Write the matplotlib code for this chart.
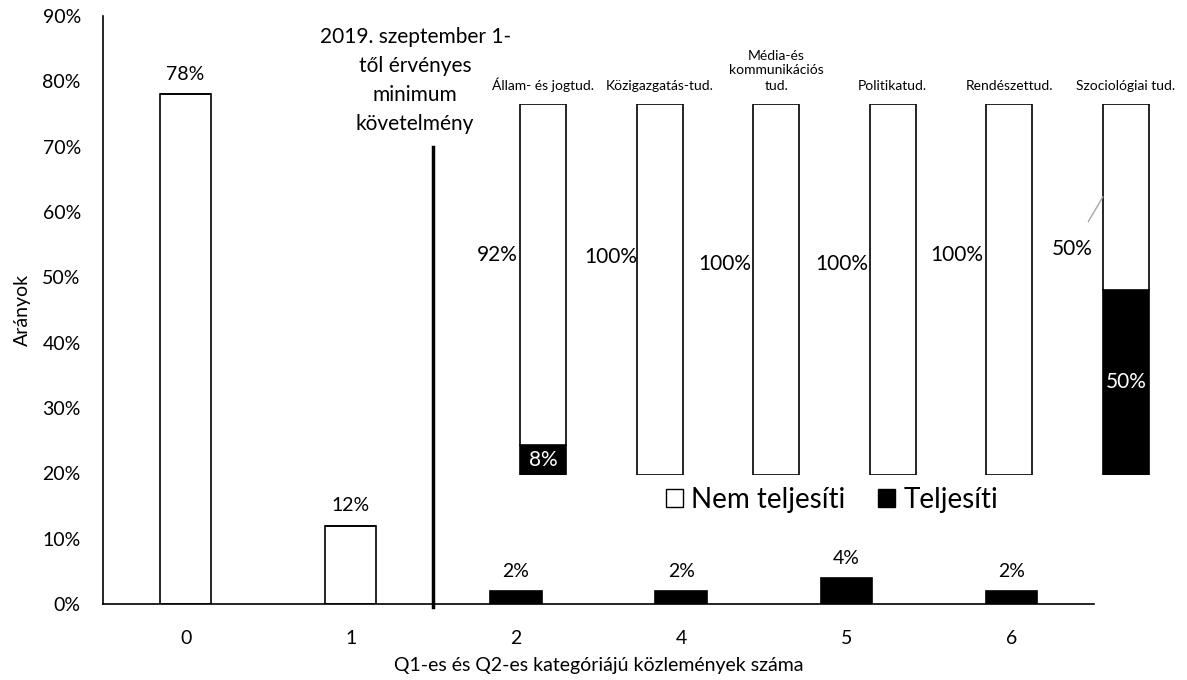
import matplotlib
matplotlib.use("Agg")
import matplotlib.pyplot as plt
from matplotlib.patches import Patch
import numpy as np

plt.rcParams['font.family'] = ['Lato', 'DejaVu Sans']

# ---- main chart data ----
categories = ["0", "1", "2", "4", "5", "6"]
nem_main = [78, 12, 0, 0, 0, 0]
telj_main = [0, 0, 2, 2, 4, 2]
main_labels = ["78%", "12%", "2%", "2%", "4%", "2%"]
y_ticks = [0, 10, 20, 30, 40, 50, 60, 70, 80, 90]
threshold_x = 1.5
threshold_top = 70
annotation_lines = ["2019. szeptember 1-", "től érvényes", "minimum", "követelmény"]

# ---- inset data ----
fields = ["Állam- és jogtud.", "Közigazgatás-tud.", "Média-és\nkommunikációs\ntud.",
          "Politikatud.", "Rendészettud.", "Szociológiai tud."]
nem_inset = [92, 100, 100, 100, 100, 50]
telj_inset = [8, 0, 0, 0, 0, 50]
# label positions (offset from bar centre, height) of the "Nem teljesíti" labels
nem_label_pos = [(-0.39, 59.3), (-0.42, 58.8), (-0.44, 57.0), (-0.44, 57.0), (-0.45, 59.3), (-0.46, 61.0)]

W, H = 1187, 680
fig = plt.figure(figsize=(W / 100, H / 100), dpi=100)

ax = fig.add_axes([103 / W, 1 - 604 / H, (1094 - 103) / W, (604 - 16) / H])
x = np.arange(len(categories))
bw = 0.31
ax.bar(x, nem_main, width=bw, color="white", edgecolor="black", linewidth=1.2, zorder=2)
ax.bar(x, telj_main, bottom=nem_main, width=bw, color="black", edgecolor="black", linewidth=1.2, zorder=2)
for xi, v1, v2, lab in zip(x, nem_main, telj_main, main_labels):
    ax.annotate(lab, (xi, v1 + v2), xytext=(0, 8), textcoords="offset points",
                ha="center", va="bottom", fontsize=14)
ax.set_xlim(-0.5, len(categories) - 0.5)
ax.set_ylim(0, 90)
ax.set_yticks(y_ticks)
ax.set_yticklabels([f"{t}%" for t in y_ticks], fontsize=14)
ax.set_xticks(x)
ax.set_xticklabels(categories, fontsize=14)
ax.tick_params(axis="x", length=0, pad=19)
ax.tick_params(axis="y", length=0, pad=16)
for s in ["top", "right"]:
    ax.spines[s].set_visible(False)
for s in ["left", "bottom"]:
    ax.spines[s].set_linewidth(1.2)
ax.set_ylabel("Arányok", fontsize=14, labelpad=8)
ax.set_xlabel("Q1-es és Q2-es kategóriájú közlemények száma", fontsize=14, labelpad=7)

ax.plot([threshold_x, threshold_x], [-0.4, threshold_top], color="black", linewidth=2.5, zorder=3, clip_on=False)
# annotation: one text per line, stacked downward from the top
ann_top_y = 86.8
ann_step = 4.45
for k, line in enumerate(annotation_lines):
    ax.text(1.39, ann_top_y - k * ann_step, line, ha="center", va="center", fontsize=15)

# ---- inset ----
ax2 = fig.add_axes([484.7 / W, 1 - 475 / H, 699.6 / W, 371 / H])
xi2 = np.arange(len(fields))
bw2 = 0.395
ax2.bar(xi2, telj_inset, width=bw2, color="black", edgecolor="black", linewidth=1.2)
ax2.bar(xi2, nem_inset, bottom=telj_inset, width=bw2, color="white", edgecolor="black", linewidth=1.2)
ax2.set_xlim(-0.5, len(fields) - 0.5)
ax2.set_ylim(0, 100)
ax2.axis("off")
for i, f in enumerate(fields):
    ax2.annotate(f, (i, 100), xytext=(0, 9), textcoords="offset points",
                 ha="center", va="bottom", fontsize=10, linespacing=1.3)
for i, (v, (dx, yy)) in enumerate(zip(nem_inset, nem_label_pos)):
    if i == len(fields) - 1:
        ax2.annotate(f"{v}%", xy=(i - bw2 / 2, 75), xytext=(i + dx, yy),
                     ha="center", va="center", fontsize=15,
                     arrowprops=dict(arrowstyle="-", color="#A6A6A6", lw=1.0, shrinkA=12, shrinkB=0))
    else:
        ax2.text(i + dx, yy, f"{v}%", ha="center", va="center", fontsize=15)
for i, v in enumerate(telj_inset):
    if v > 0:
        ax2.text(i, v / 2, f"{v}%", ha="center", va="center", fontsize=15, color="white")

handles = [Patch(facecolor="white", edgecolor="black", linewidth=1.0, label="Nem teljesíti"),
           Patch(facecolor="black", edgecolor="black", label="Teljesíti")]
fig.legend(handles=handles, loc="center", bbox_to_anchor=(832 / W, 1 - 500 / H), ncol=2,
           frameon=False, fontsize=20, handlelength=0.6, handleheight=0.6, handletextpad=0.3,
           columnspacing=1.2)

fig.savefig("out.png", dpi=100)
